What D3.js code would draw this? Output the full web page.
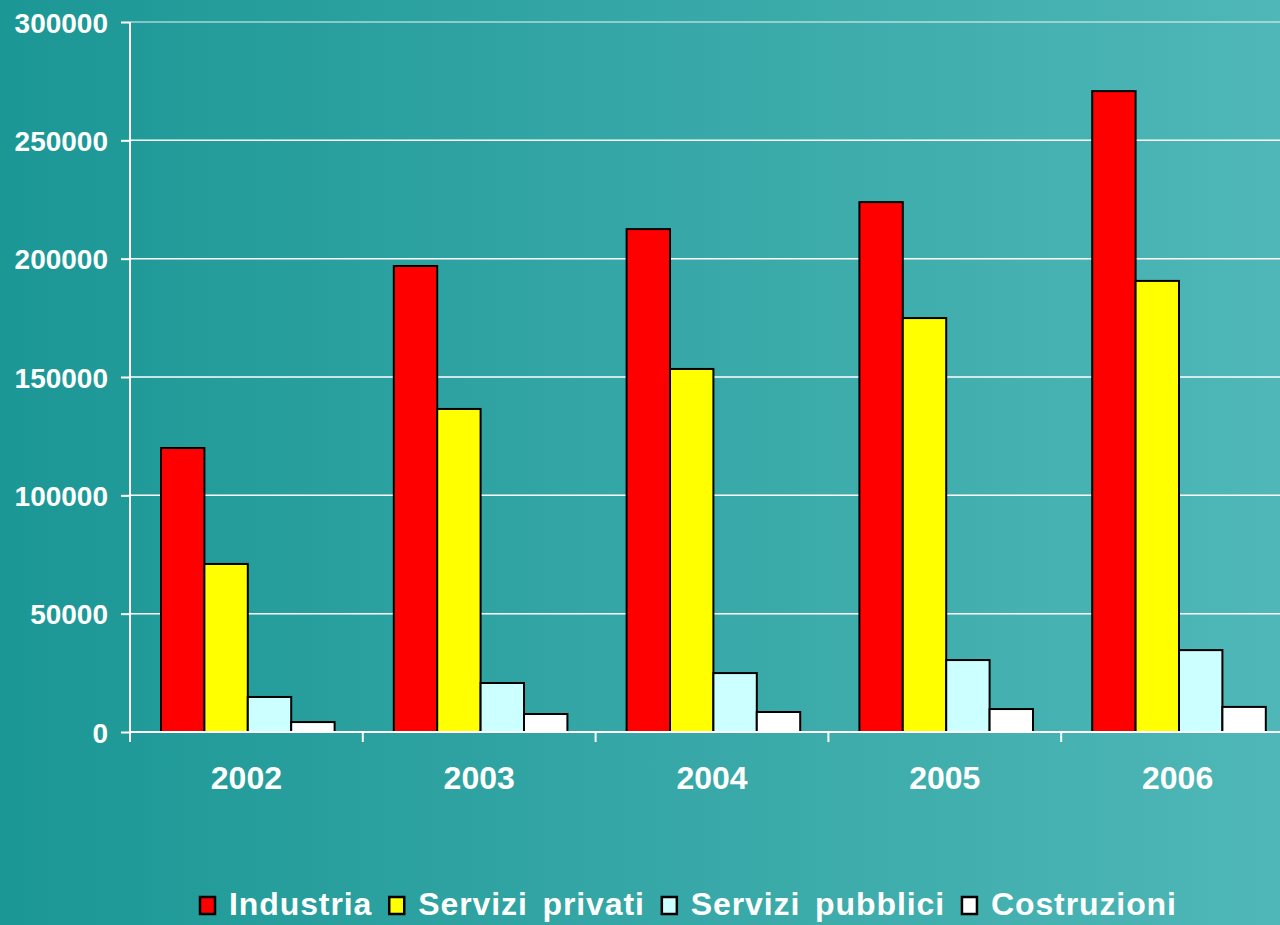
<!DOCTYPE html>
<html><head><meta charset="utf-8">
<script src="https://cdn.jsdelivr.net/npm/d3@7"></script>
<style>html,body{margin:0;padding:0;overflow:hidden;background:#1c9896}</style>
</head><body>
<script>
const years = ["2002","2003","2004","2005","2006"];
const seriesNames = ["Industria","Servizi privati","Servizi pubblici","Costruzioni"];
const industria = [120000,196900,212500,223900,270800];
const serviziPrivati = [71000,136500,153400,174900,190600];
const serviziPubblici = [14800,20700,24900,30400,34600];
const costruzioni = [4200,7600,8450,9700,10600];
const yTicks = [0,50000,100000,150000,200000,250000,300000];
const colors = ["#ff0000","#ffff00","#ccffff","#ffffff"];

(function(){
const seriesValues = [industria, serviziPrivati, serviziPubblici, costruzioni];
const W = 1280, H = 925;
const svg = d3.select("body").append("svg").attr("width",W).attr("height",H).style("display","block");
const defs = svg.append("defs");
const grad = defs.append("linearGradient").attr("id","bg").attr("x1","0").attr("y1","0").attr("x2","1").attr("y2","0");
grad.append("stop").attr("offset","0").attr("stop-color","#1b9795");
grad.append("stop").attr("offset","1").attr("stop-color","#4fb7b7");
svg.append("rect").attr("width",W).attr("height",H).attr("fill","url(#bg)");

const mLeft = 130, mBottom = 732, mTop = 22;
const catW = 232.8;
const x0 = d3.scaleBand().domain(years).range([mLeft, mLeft + catW*years.length]);
const x1 = d3.scaleBand().domain(seriesNames).range([31, 31 + 4*43.4]);
const y = d3.scaleLinear().domain([0,300000]).range([mBottom, mTop]);

// gridlines
svg.append("g").selectAll("line").data(yTicks.filter(d=>d>0)).join("line")
  .attr("x1",mLeft).attr("x2",W).attr("y1",d=>y(d)).attr("y2",d=>y(d))
  .attr("stroke",d=>d===300000?"rgba(255,255,255,0.6)":"#ffffff").attr("stroke-width",1.5);

// bars
const groups = svg.append("g").selectAll("g").data(years).join("g")
  .attr("transform",d=>`translate(${x0(d)},0)`);
groups.selectAll("rect").data((d,i)=>seriesNames.map((s,j)=>({s, j, v: seriesValues[j][i]}))).join("rect")
  .attr("x",d=>x1(d.s)).attr("width",x1.bandwidth())
  .attr("y",d=>y(d.v)).attr("height",d=>mBottom - y(d.v))
  .attr("fill",d=>colors[d.j]).attr("stroke","#000").attr("stroke-width",2);

// y axis
const yAxis = svg.append("g").attr("transform",`translate(${mLeft},0)`)
  .call(d3.axisLeft(y).tickValues(yTicks).tickSize(9).tickPadding(13).tickFormat(d3.format("d")));
yAxis.select(".domain").attr("stroke","#fff").attr("stroke-width",2).attr("d",`M0,${mTop}V${mBottom+10}`);
yAxis.selectAll(".tick line").attr("stroke","#fff").attr("stroke-width",2);
yAxis.selectAll(".tick text").attr("fill","#fff").attr("font-family","'Liberation Sans',Arial,sans-serif")
  .attr("font-weight","bold").attr("font-size",28).attr("dy","0.36em");

// x axis
const xAxis = svg.append("g").attr("transform",`translate(0,${mBottom})`)
  .call(d3.axisBottom(x0).tickSize(0).tickPadding(0));
xAxis.select(".domain").attr("stroke","#fff").attr("stroke-width",2).attr("d",`M${mLeft},0H${W+20}`);
xAxis.selectAll(".tick text").attr("fill","#fff").attr("font-family","'Liberation Sans',Arial,sans-serif")
  .attr("font-weight","bold").attr("font-size",32).attr("y",57).attr("dy",0);
// category separators
svg.append("g").selectAll("line").data(years).join("line")
  .attr("x1",d=>x0(d)).attr("x2",d=>x0(d)).attr("y1",mBottom).attr("y2",mBottom+10)
  .attr("stroke","#fff").attr("stroke-width",2);

// legend
const leg = svg.append("g");
let lx = 200;
seriesNames.forEach((s,i)=>{
  leg.append("rect").attr("x",lx).attr("y",897).attr("width",15).attr("height",17)
    .attr("fill",colors[i]).attr("stroke","#000").attr("stroke-width",2.5);
  const t = leg.append("text").attr("x",lx+29).attr("y",915).text(s)
    .attr("fill","#fff").attr("font-family","'Liberation Sans',Arial,sans-serif")
    .attr("font-weight","bold").attr("font-size",32).attr("letter-spacing",0.9).attr("word-spacing",5);
  lx = lx + 29 + t.node().getComputedTextLength() + 17;
});
})();
</script>
</body></html>
